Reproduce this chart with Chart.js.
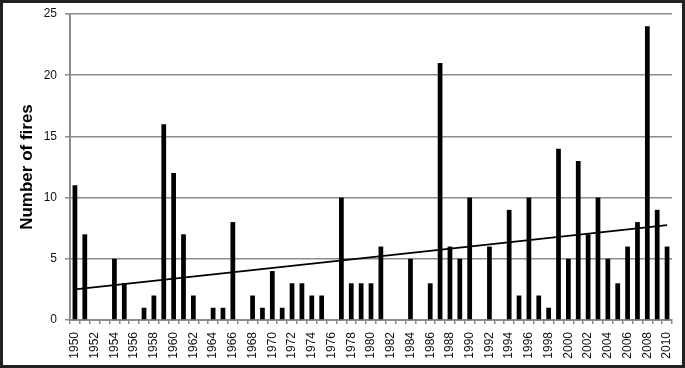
<!DOCTYPE html>
<html>
<head>
<meta charset="utf-8">
<script src="https://cdn.jsdelivr.net/npm/chart.js@4"></script>
<style>
  html, body { margin: 0; padding: 0; background: #fff; }
  #frame {
    width: 685px; height: 368px; box-sizing: border-box;
    border: 3px solid #222; background: #fff;
  }
</style>
</head>
<body>
<div id="frame"><canvas id="firesChart"></canvas></div>
<script>
// years 1950..2010
const years = [];
for (let y = 1950; y <= 2010; y++) years.push(String(y));

// number of fires per year
const fires = [
  11, 7, 0, 0, 5, 3, 0, 1, 2, 16,   // 1950-1959
  12, 7, 2, 0, 1, 1, 8, 0, 2, 1,    // 1960-1969
  4, 1, 3, 3, 2, 2, 0, 10, 3, 3,    // 1970-1979
  3, 6, 0, 0, 5, 0, 3, 21, 6, 5,    // 1980-1989
  10, 0, 6, 0, 9, 2, 10, 2, 1, 14,  // 1990-1999
  5, 13, 7, 10, 5, 3, 6, 8, 24, 9,  // 2000-2009
  6                                 // 2010
];

// linear trend line, value at 1950 and at 2010
const trendEnds = [2.5, 7.75];

const yTicks = [0, 5, 10, 15, 20, 25];

const trend = years.map((y, i) => {
    if (i === 0) return trendEnds[0];
    if (i === years.length - 1) return trendEnds[1];
    return null;
});

const axisGrey = '#8c8c8c';
const font = 'Liberation Sans, Arial, sans-serif';

const ctx = document.getElementById('firesChart').getContext('2d');
const chart = new Chart(ctx, {
    type: 'bar',
    data: {
        labels: years,
        datasets: [{
            type: 'line',
            data: trend,
            spanGaps: true,
            borderColor: '#000',
            borderWidth: 1.8,
            pointRadius: 0,
            order: 0
        }, {
            data: fires,
            backgroundColor: '#000',
            barPercentage: 0.48,
            categoryPercentage: 1,
            order: 1
        }]
    },
    options: {
        responsive: true,
        maintainAspectRatio: false,
        animation: false,
        layout: { padding: { top: 11, right: 10, left: 0, bottom: 0 } },
        plugins: {
            legend: { display: false },
            tooltip: { enabled: false }
        },
        scales: {
            x: {
                offset: true,
                grid: {
                    offset: true,
                    drawOnChartArea: false,
                    drawTicks: true,
                    tickLength: 4,
                    color: axisGrey,
                    lineWidth: 1.5
                },
                border: { color: axisGrey, width: 2 },
                ticks: {
                    autoSkip: false,
                    minRotation: 90,
                    maxRotation: 90,
                    padding: 8,
                    color: '#111',
                    font: { family: font, size: 12 },
                    callback: function (value, index) {
                        return index % 2 === 0 ? years[index] : '';
                    }
                },
                afterFit: function (scale) {
                    scale.height = 45;
                    scale.paddingLeft = 0;
                    scale.paddingRight = 0;
                }
            },
            y: {
                min: 0,
                max: 25,
                afterBuildTicks: function (scale) {
                    scale.ticks = yTicks.map(v => ({ value: v }));
                },
                grid: {
                    color: axisGrey,
                    lineWidth: 1.5,
                    tickLength: 5
                },
                border: { color: axisGrey, width: 2 },
                ticks: {
                    padding: 8,
                    color: '#111',
                    font: { family: font, size: 12 }
                },
                title: {
                    display: true,
                    text: 'Number of fires',
                    color: '#000',
                    padding: { top: 14, bottom: 0 },
                    font: { family: font, size: 17, weight: 'bold' }
                },
                afterFit: function (scale) {
                    scale.width = 67;
                    scale.paddingTop = 0;
                    scale.paddingBottom = 0;
                }
            }
        }
    }
});
</script>
</body>
</html>
